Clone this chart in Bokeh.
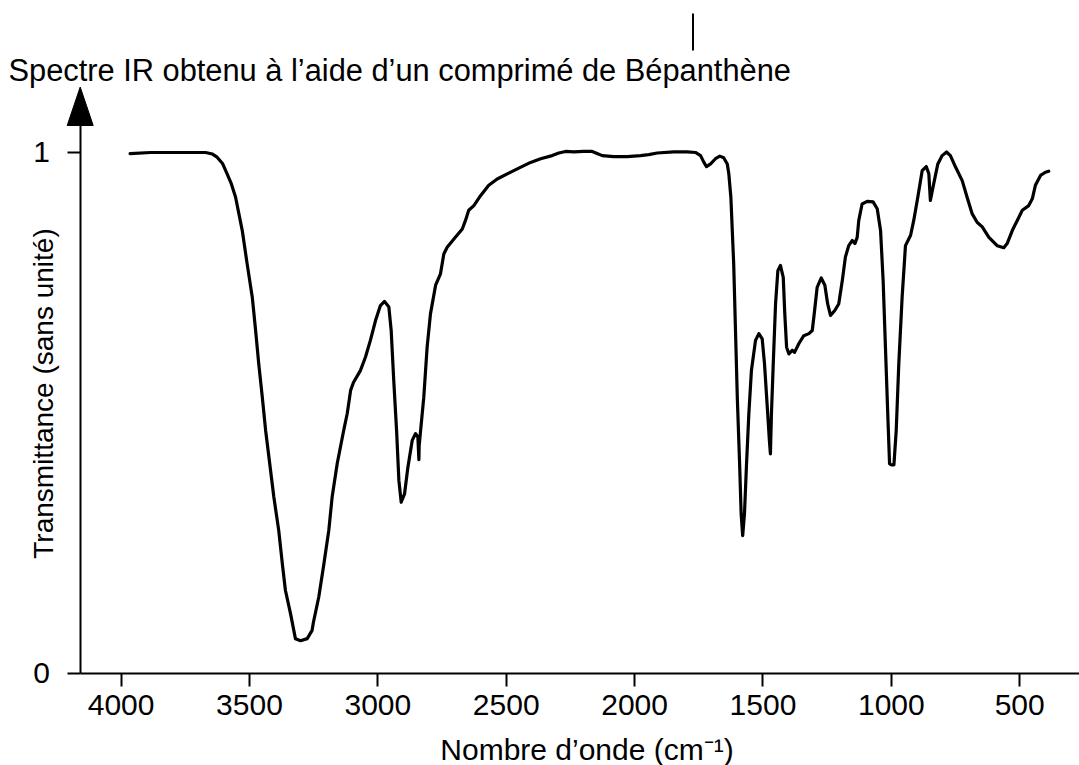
import numpy as np
from bokeh.plotting import figure
from bokeh.models import Range1d, LinearAxis, FixedTicker, Label, Grid
from bokeh.embed import file_html
from bokeh.resources import INLINE

# ---- data ----
wavenumber = [3965, 3885, 3671, 3644, 3626, 3605, 3587, 3570, 3554, 3528,
              3509, 3489, 3476, 3464, 3450, 3437, 3421, 3405, 3386, 3372,
              3360, 3340, 3321, 3301, 3275, 3256, 3251, 3230, 3210, 3191,
              3178, 3158, 3133, 3119, 3106, 3095, 3068, 3048, 3029, 3009,
              2990, 2974, 2957, 2948, 2938, 2927, 2918, 2909, 2896, 2883,
              2866, 2853, 2844, 2840, 2839, 2821, 2808, 2795, 2775, 2756,
              2743, 2730, 2698, 2671, 2659, 2646, 2626, 2600, 2568, 2535,
              2496, 2451, 2405, 2366, 2321, 2295, 2269, 2237, 2198, 2165,
              2146, 2126, 2081, 2029, 1977, 1945, 1912, 1847, 1795, 1763,
              1743, 1730, 1720, 1704, 1685, 1668, 1653, 1639, 1633, 1625,
              1614, 1607, 1600, 1591, 1585, 1579, 1572, 1564, 1555, 1545,
              1529, 1516, 1503, 1494, 1484, 1475, 1471, 1467, 1460, 1451,
              1442, 1432, 1421, 1415, 1408, 1399, 1386, 1377, 1360, 1341,
              1321, 1308, 1299, 1289, 1273, 1259, 1248, 1237, 1221, 1205,
              1191, 1179, 1166, 1152, 1142, 1133, 1127, 1114, 1094, 1071,
              1055, 1042, 1032, 1023, 1014, 1007, 1001, 990, 981, 971,
              958, 945, 925, 913, 897, 880, 864, 854, 848, 835,
              819, 802, 785, 770, 750, 724, 705, 685, 666, 646,
              620, 588, 562, 549, 529, 510, 490, 465, 451, 439,
              419, 400, 387]
transmittance = [0.998, 1.000, 1.000, 0.997, 0.991, 0.979, 0.959, 0.939, 0.914, 0.850,
                 0.786, 0.722, 0.658, 0.595, 0.530, 0.466, 0.402, 0.338, 0.274, 0.210,
                 0.159, 0.114, 0.066, 0.062, 0.066, 0.082, 0.097, 0.146, 0.210, 0.274,
                 0.338, 0.403, 0.466, 0.499, 0.543, 0.558, 0.581, 0.607, 0.639, 0.677,
                 0.706, 0.714, 0.703, 0.658, 0.562, 0.466, 0.370, 0.328, 0.344, 0.395,
                 0.447, 0.460, 0.453, 0.410, 0.437, 0.530, 0.626, 0.690, 0.745, 0.767,
                 0.805, 0.818, 0.837, 0.853, 0.869, 0.889, 0.898, 0.917, 0.937, 0.949,
                 0.959, 0.970, 0.981, 0.988, 0.994, 0.999, 1.002, 1.001, 1.002, 1.002,
                 0.998, 0.994, 0.992, 0.992, 0.994, 0.996, 0.999, 1.001, 1.001, 1.000,
                 0.994, 0.981, 0.973, 0.978, 0.988, 0.993, 0.990, 0.978, 0.959, 0.914,
                 0.786, 0.658, 0.530, 0.402, 0.306, 0.264, 0.306, 0.402, 0.498, 0.581,
                 0.639, 0.652, 0.642, 0.594, 0.517, 0.447, 0.421, 0.498, 0.594, 0.709,
                 0.773, 0.783, 0.760, 0.690, 0.626, 0.613, 0.620, 0.616, 0.633, 0.648,
                 0.652, 0.658, 0.696, 0.741, 0.759, 0.745, 0.709, 0.687, 0.696, 0.709,
                 0.754, 0.799, 0.821, 0.831, 0.825, 0.837, 0.869, 0.901, 0.906, 0.905,
                 0.892, 0.850, 0.754, 0.626, 0.498, 0.402, 0.400, 0.400, 0.466, 0.594,
                 0.722, 0.821, 0.841, 0.869, 0.914, 0.965, 0.973, 0.959, 0.908, 0.940,
                 0.978, 0.994, 1.001, 0.994, 0.972, 0.946, 0.914, 0.882, 0.866, 0.857,
                 0.837, 0.821, 0.817, 0.825, 0.850, 0.869, 0.889, 0.898, 0.911, 0.937,
                 0.956, 0.962, 0.964]
x_ticks = [4000, 3500, 3000, 2500, 2000, 1500, 1000, 500]
y_ticks = [0, 1]
title_text = "Spectre IR obtenu à l’aide d’un comprimé de Bépanthène"
x_label = "Nombre d’onde (cm⁻¹)"
y_label = "Transmittance (sans unité)"

FONT = "Liberation Sans"
OFF = 0            # the page places the figure at its top-left corner
W, H = 1079, 765
X0, X1 = 4469.6, 267.2
Y0, Y1 = -0.1777, 1.2920


def sx(px):
    """page pixel x -> data x (for decorations only)"""
    return X0 + (px - OFF) * (X1 - X0) / W


def sy(py):
    """page pixel y -> data y (for decorations only)"""
    return Y1 - (py - OFF) * (Y1 - Y0) / H


p = figure(width=W, height=H, x_range=Range1d(X0, X1), y_range=Range1d(Y0, Y1),
           x_axis_location=None, y_axis_location=None, toolbar_location=None,
           output_backend="svg", min_border=0, outline_line_color=None,
           background_fill_color="white", border_fill_color="white")
for g in p.select(type=Grid):
    g.visible = False

y_axis_x = sx(79.5)

xaxis = LinearAxis(fixed_location=0, ticker=FixedTicker(ticks=x_ticks),
                   bounds=(X1, y_axis_x))
yaxis = LinearAxis(fixed_location=y_axis_x, ticker=FixedTicker(ticks=y_ticks),
                   bounds=(0, sy(124)))
for ax in (xaxis, yaxis):
    ax.axis_line_width = 2
    ax.axis_line_color = "black"
    ax.major_tick_in = 0
    ax.major_tick_out = 13
    ax.major_tick_line_width = 2
    ax.major_tick_line_color = "black"
    ax.minor_tick_in = 0
    ax.minor_tick_out = 0
    ax.major_label_text_font = FONT
    ax.major_label_text_font_size = "30px"
    ax.major_label_text_color = "black"
xaxis.major_label_standoff = 9
yaxis.major_label_standoff = 17
p.add_layout(xaxis, "below")
p.add_layout(yaxis, "left")

# arrow head on the y axis
p.patch([sx(66.7), sx(92.7), sx(79.7)], [sy(125), sy(125), sy(86.5)],
        fill_color="black", line_color="black", line_width=1)

# small vertical stroke at the top
p.segment(x0=[sx(692.5)], y0=[sy(13)], x1=[sx(692.5)], y1=[sy(50)],
          line_color="black", line_width=2)

# spectrum
p.line(wavenumber, transmittance, line_color="black", line_width=3.2,
       line_join="round", line_cap="round")

p.add_layout(Label(x=sx(8), y=sy(70), text=title_text, text_font=FONT,
                   text_font_size="30.8px", text_color="black",
                   text_align="left", text_baseline="alphabetic"))
p.add_layout(Label(x=sx(43), y=sy(393), text=y_label, text_font=FONT,
                   text_font_size="28px", text_color="black", angle=np.pi / 2,
                   text_align="center", text_baseline="middle"))
p.add_layout(Label(x=sx(586.5), y=sy(749), text=x_label, text_font=FONT,
                   text_font_size="30px", text_color="black",
                   text_align="center", text_baseline="alphabetic"))

open("out.html", "w").write(file_html(p, INLINE))
